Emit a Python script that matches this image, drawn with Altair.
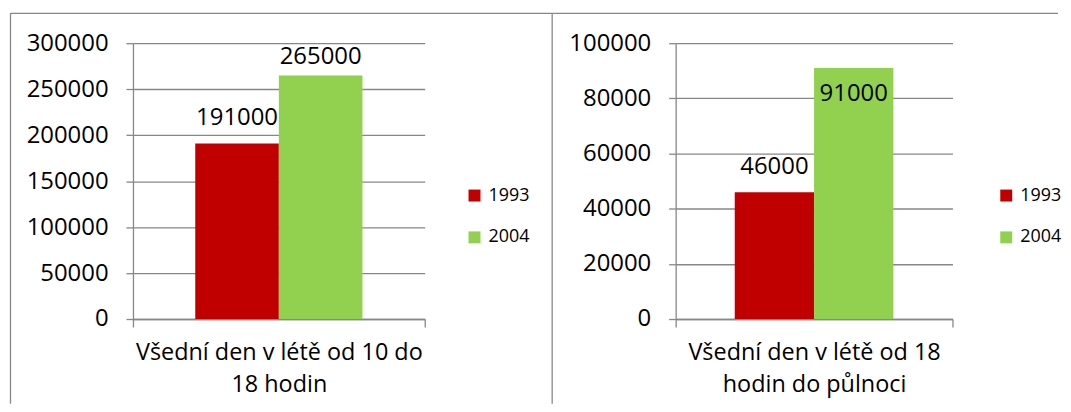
import altair as alt
import pandas as pd

categories = ["Všední den v létě od 10 do\n18 hodin", "Všední den v létě od 18\nhodin do půlnoci"]
years = ["1993", "2004"]
values_1993 = [191000, 46000]
values_2004 = [265000, 91000]
y_max = [300000, 100000]
y_step = [50000, 20000]
colors = ["#C00000", "#92D050"]

FONT = "Open Sans"
GRAY = "#878787"


def panel(i, width, dy2004, legend_x, legend_y, box):
    df = pd.DataFrame({
        "cat": [categories[i]] * 2,
        "year": years,
        "value": [values_1993[i], values_2004[i]],
    })
    base = alt.Chart(df)
    x = alt.X("cat:N", title=None,
              scale=alt.Scale(paddingInner=0, paddingOuter=0),
              axis=alt.Axis(labelAngle=0, labelExpr="split(datum.label, '\\n')",
                            tickBand="extent", tickSize=8, labelPadding=14,
                            labelFontSize=23.5, labelLineHeight=32, labelLimit=0,
                            labelBaseline="top"))
    xo = alt.XOffset("year:N", scale=alt.Scale(paddingOuter=0.745, paddingInner=0))
    y = alt.Y("value:Q", title=None,
              scale=alt.Scale(domain=[0, y_max[i]], nice=False),
              axis=alt.Axis(values=list(range(0, y_max[i] + 1, y_step[i])), format="d",
                            tickSize=7, labelPadding=18, labelFontSize=24))
    bars = base.mark_bar().encode(
        x=x, xOffset=xo, y=y,
        color=alt.Color("year:N", scale=alt.Scale(domain=years, range=colors),
                        legend=alt.Legend(title=None, orient="none", legendX=legend_x,
                                          legendY=legend_y, symbolType="square",
                                          symbolSize=144, symbolStrokeWidth=0,
                                          labelFontSize=18, labelOffset=5,
                                          rowPadding=24, padding=0, labelFont=FONT)))
    t1 = base.transform_filter(alt.datum.year == years[0]).mark_text(
        font=FONT, fontSize=24, baseline="alphabetic", dy=-18, color="black").encode(
        x=x, xOffset=xo, y=y, text=alt.Text("value:Q", format="d"))
    t2 = base.transform_filter(alt.datum.year == years[1]).mark_text(
        font=FONT, fontSize=24, baseline="alphabetic", dy=dy2004, color="black").encode(
        x=x, xOffset=xo, y=y, text=alt.Text("value:Q", format="d"))
    frame = alt.Chart(pd.DataFrame({"k": [0]}))
    rules = []
    for (x1, y1, x2, y2) in box:
        rules.append(frame.mark_rule(color=GRAY, strokeWidth=1.3).encode(
            x=alt.value(x1), x2=alt.value(x2), y=alt.value(y1), y2=alt.value(y2)))
    return alt.layer(*rules, bars, t1, t2).properties(width=width, height=277)


left = panel(0, 293, -11, 334, 144,
             [(-123, -30, -123, 362), (-123, -30, 421, -30)])
right = panel(1, 278, 33, 323, 144,
              [(-124, -30, -124, 362), (-124, -30, 384, -30)])

chart = alt.hconcat(left, right, spacing=252, bounds="flush").resolve_scale(
    color="independent", y="independent", x="independent", xOffset="independent"
).properties(
    padding={"left": 0.5, "top": 2.5, "right": 0, "bottom": 0}
).configure_view(stroke="transparent").configure_axis(
    labelFont=FONT, labelColor="black", domainColor=GRAY, tickColor=GRAY,
    gridColor=GRAY, domainWidth=1.3, tickWidth=1.3, gridWidth=1.3
).configure_legend(labelColor="black")

chart.save("out.html", embed_options={"renderer": "svg", "actions": False})
